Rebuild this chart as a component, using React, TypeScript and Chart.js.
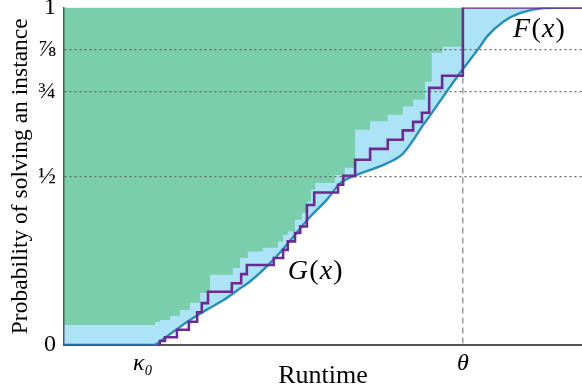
import { useEffect, useRef } from "react";
import { Chart, registerables } from "chart.js";

Chart.register(...registerables);

const FAMILY = "'Liberation Serif', 'DejaVu Serif', serif";

const KAPPA0 = 0.1757;
const THETA = 0.77;

const yTickValues = [0, 0.5, 0.75, 0.875, 1];
const yTickLabels = ["0", "½", "¾", "⅞", "1"];
const xTickValues = [KAPPA0, THETA];
const xTickLabels = ["κ₀\u2003", "θ"];

// smooth distribution curve G(x) / F(x), from kappa0 on
const curveX = [KAPPA0, 0.211, 0.243, 0.275, 0.308, 0.34, 0.359, 0.404, 0.443, 0.475, 0.507, 0.533, 0.565, 0.623, 0.655, 0.674, 0.691, 0.703, 0.732, 0.764, 0.803, 0.816, 0.848, 0.88, 0.925, 0.977, 1.0];
const curveY = [0, 0.039, 0.074, 0.104, 0.133, 0.168, 0.188, 0.252, 0.321, 0.38, 0.43, 0.479, 0.504, 0.538, 0.568, 0.607, 0.647, 0.672, 0.736, 0.805, 0.884, 0.913, 0.958, 0.983, 0.998, 1.0, 1.0];

// flat part of the curve before kappa0
const flatX = [0, KAPPA0];
const flatY = [0, 0];

// empirical step function (purple)
const stepX = [0.18, 0.185, 0.195, 0.218, 0.241, 0.257, 0.266, 0.278, 0.324, 0.342, 0.353, 0.405, 0.423, 0.432, 0.446, 0.456, 0.469, 0.483, 0.529, 0.539, 0.562, 0.591, 0.625, 0.654, 0.674, 0.691, 0.705, 0.73, 0.77, 1.0];
const stepY = [0, 0.012, 0.023, 0.045, 0.069, 0.097, 0.124, 0.158, 0.183, 0.21, 0.237, 0.258, 0.282, 0.307, 0.332, 0.351, 0.415, 0.452, 0.475, 0.501, 0.549, 0.581, 0.608, 0.636, 0.661, 0.688, 0.762, 0.798, 1.0, 1.0];

// lower boundary of the green region (staircase)
const boundX = [0, 0.1757, 0.185, 0.205, 0.224, 0.243, 0.263, 0.282, 0.326, 0.34, 0.355, 0.384, 0.413, 0.423, 0.432, 0.446, 0.459, 0.469, 0.477, 0.485, 0.523, 0.542, 0.562, 0.591, 0.625, 0.654, 0.674, 0.697, 0.71, 0.731, 0.77, 1.0];
const boundY = [0.059, 0.068, 0.074, 0.086, 0.104, 0.125, 0.154, 0.208, 0.228, 0.258, 0.277, 0.288, 0.307, 0.326, 0.336, 0.371, 0.391, 0.425, 0.46, 0.48, 0.504, 0.525, 0.638, 0.663, 0.682, 0.707, 0.727, 0.78, 0.866, 0.884, 1.0, 1.0];

const GREEN = "#7ACEAC";
const LIGHTBLUE = "#ADE3F6";
const CURVE = "#2A8DB5";
const PURPLE = "#6A2C91";

const zip = (xs: number[], ys: number[]) => xs.map((x, i) => ({ x, y: ys[i] }));

type Part = [string, string];
const MATH_LABELS: { parts: Part[]; x: number; y: number }[] = [
  { parts: [["G", "italic"], ["(", "normal"], ["x", "italic"], [")", "normal"]], x: 0.432, y: 0.196 },
  { parts: [["F", "italic"], ["(", "normal"], ["x", "italic"], [")", "normal"]], x: 0.867, y: 0.913 },
];

const mathLabelPlugin = {
  id: "mathLabels",
  afterDatasetsDraw(chart: any) {
    const { ctx, scales } = chart;
    const xs = scales.x;
    const ys = scales.y;
    ctx.save();
    ctx.fillStyle = "#000";
    ctx.textBaseline = "alphabetic";
    ctx.textAlign = "left";
    for (const lab of MATH_LABELS) {
      let px = xs.getPixelForValue(lab.x);
      const py = ys.getPixelForValue(lab.y);
      for (const [t, st] of lab.parts) {
        ctx.font = `${st} 28px ${FAMILY}`;
        ctx.fillText(t, px, py);
        px += ctx.measureText(t).width + 1.2;
      }
    }
    ctx.restore();
  },
};

export default function App() {
  const ref = useRef<HTMLCanvasElement | null>(null);

  useEffect(() => {
    if (!ref.current) return;
    const chart = new Chart(ref.current, {
      type: "line",
      data: {
        datasets: [
          {
            label: "bound",
            data: zip(boundX, boundY),
            stepped: true,
            borderWidth: 0,
            borderColor: "rgba(0,0,0,0)",
            backgroundColor: GREEN,
            fill: "end",
            pointRadius: 0,
            order: 0,
          },
          {
            label: "empirical",
            data: zip(stepX, stepY),
            stepped: true,
            borderWidth: 2.6,
            borderColor: PURPLE,
            fill: false,
            pointRadius: 0,
            order: 1,
          },
          {
            label: "curve",
            data: zip(curveX, curveY),
            cubicInterpolationMode: "monotone",
            borderWidth: 2.4,
            borderColor: CURVE,
            backgroundColor: LIGHTBLUE,
            fill: "end",
            pointRadius: 0,
            order: 2,
          },
          {
            label: "flat",
            data: zip(flatX, flatY),
            borderWidth: 2.4,
            borderColor: "#2B6AA6",
            backgroundColor: LIGHTBLUE,
            fill: "end",
            pointRadius: 0,
            order: 3,
          },
        ],
      } as any,
      options: {
        animation: false,
        responsive: false,
        events: [],
        layout: { padding: { top: 7.5, right: 0, bottom: 0, left: 0 } },
        plugins: {
          legend: { display: false },
          tooltip: { enabled: false },
          filler: { drawTime: "beforeDraw" },
        } as any,
        scales: {
          x: {
            type: "linear",
            min: 0,
            max: 1,
            afterBuildTicks: (s: any) => {
              s.ticks = xTickValues.map((v) => ({ value: v }));
            },
            afterFit: (s: any) => {
              s.height = 44;
              s.paddingLeft = 0;
              s.paddingRight = 0;
            },
            ticks: {
              autoSkip: false,
              maxRotation: 0,
              padding: 4,
              color: "#000",
              font: { family: FAMILY, size: 24, style: "italic" },
              callback: (_v: any, i: number) => xTickLabels[i],
            },
            grid: {
              drawTicks: false,
              lineWidth: 1.5,
              color: (c: any) => (c.tick && c.tick.value === THETA ? "#9A9A9A" : "rgba(0,0,0,0)"),
            },
            border: { display: true, color: "#555", width: 2, dash: [6, 4] },
            title: {
              display: true,
              text: "Runtime",
              color: "#000",
              font: { family: FAMILY, size: 26, lineHeight: 1 },
              padding: 0,
            },
          },
          y: {
            type: "linear",
            min: 0,
            max: 1,
            afterBuildTicks: (s: any) => {
              s.ticks = yTickValues.map((v) => ({ value: v }));
            },
            afterFit: (s: any) => {
              s.width = 64;
              s.paddingTop = 0;
              s.paddingBottom = 0;
            },
            ticks: {
              autoSkip: false,
              padding: 8,
              color: "#000",
              font: { family: FAMILY, size: 24 },
              callback: (_v: any, i: number) => yTickLabels[i],
            },
            grid: {
              drawTicks: false,
              lineWidth: 1.2,
              color: (c: any) =>
                c.tick && c.tick.value > 0 && c.tick.value < 1 ? "#666" : "rgba(0,0,0,0)",
            },
            border: { display: true, color: "#555", width: 1.5, dash: [2, 3] },
            title: {
              display: true,
              text: "Probability of solving an instance",
              color: "#000",
              font: { family: FAMILY, size: 23.5 },
              padding: { top: 7, bottom: 0 },
            },
          },
        },
      } as any,
      plugins: [mathLabelPlugin],
    });
    return () => chart.destroy();
  }, []);

  return (
    <div style={{ position: "fixed", left: 0, top: 0, width: 582, height: 389, background: "#fff" }}>
      <canvas ref={ref} width={582} height={389} style={{ display: "block", width: 582, height: 389 }} />
    </div>
  );
}
